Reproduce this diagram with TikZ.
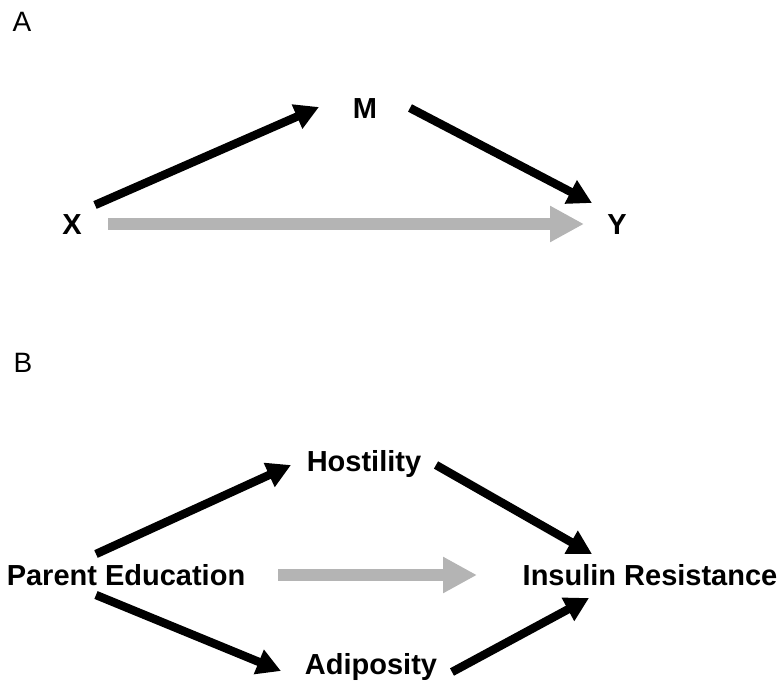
\documentclass[tikz,border=0pt]{standalone}
\usepackage{fontspec}
\setmainfont{Liberation Sans}
\usetikzlibrary{arrows.meta}
\definecolor{DirectGray}{RGB}{180,180,180}
\tikzset{
  varlab/.style={font=\fontsize{14.5}{17}\selectfont\bfseries, inner sep=0pt,
    text height=10.4pt, text depth=0pt},
  panellab/.style={font=\fontsize{14}{17}\selectfont, inner sep=0pt,
    text height=10pt, text depth=0pt},
  patharr/.style={-{Triangle[length=12pt, width=12.5pt]}, line width=4.2pt, black},
  directarr/.style={-{Triangle[length=17pt, width=17pt]}, line width=6pt, DirectGray},
}

\begin{document}
\begin{tikzpicture}[x=0.5pt, y=-0.5pt]
  \useasboundingbox (0,0) rectangle (780,685);
  % A: simple mediation
  \node[panellab] (labA) at (22,21) {A};
  \node[varlab] (X) at (72,224) {X};
  \node[varlab] (M) at (365,108) {M};
  \node[varlab] (Y) at (617,224) {Y};
  \draw[patharr] ([shift={(23,-19)}]X.center) -- ([shift={(-46,-1)}]M.center);
  \draw[patharr] ([shift={(45,0)}]M.center) -- ([shift={(-25,-21)}]Y.center);
  \draw[directarr] ([shift={(36,0)}]X.center) -- ([shift={(-33,0)}]Y.center);
  % B: two mediators
  \node[panellab] (labB) at (23,362) {B};
  \node[varlab] (educ) at (126,575) {Parent Education};
  \node[varlab] (host) at (364,461) {Hostility};
  \node[varlab] (adip) at (371,664) {Adiposity};
  \node[varlab] (insul) at (650,575) {Insulin Resistance};
  \draw[patharr] ([shift={(-30,-21)}]educ.center) -- ([shift={(-73,4)}]host.center);
  \draw[patharr] ([shift={(72,4)}]host.center) -- ([shift={(-58,-21)}]insul.center);
  \draw[patharr] ([shift={(-30,20)}]educ.center) -- ([shift={(-90,7)}]adip.center);
  \draw[patharr] ([shift={(81,8)}]adip.center) -- ([shift={(-61,23)}]insul.center);
  \draw[directarr] ([shift={(152,0)}]educ.center) -- ([shift={(-173,0)}]insul.center);
\end{tikzpicture}
\end{document}
